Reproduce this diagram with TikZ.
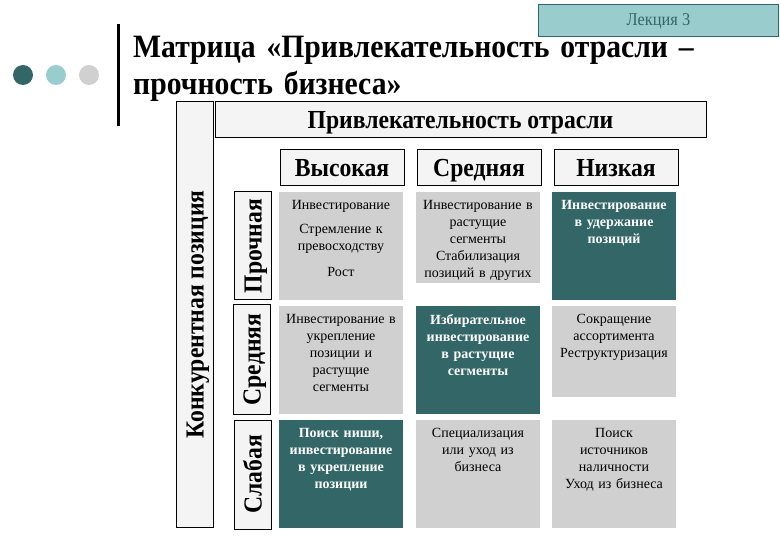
\documentclass[tikz,border=0pt]{standalone}
\usepackage{fontspec}
\setmainfont{Liberation Serif}
\newfontfamily\narrowfont[FakeStretch=0.91]{Liberation Serif}
\usepackage{tikz}
\usetikzlibrary{positioning}
\definecolor{darkteal}{HTML}{336666}
\definecolor{lightteal}{HTML}{99CCCC}
\definecolor{cellgrey}{HTML}{D0D0D0}
\definecolor{boxgrey}{HTML}{F4F4F4}
\tikzstyle{dot} = [circle, inner sep=0pt, minimum size=20pt]
\tikzstyle{headbox} = [rectangle, draw=black, fill=boxgrey, line width=1pt, inner sep=0pt, outer sep=0pt, text height=18pt, text depth=0pt, font=\fontsize{26}{26}\selectfont\narrowfont\bfseries]
\tikzstyle{colbox} = [headbox, minimum width=124pt, minimum height=36pt]
\tikzstyle{rowbox} = [headbox, rotate=90, minimum height=37pt]
\tikzstyle{greycell} = [rectangle, fill=cellgrey, inner sep=0pt, outer sep=0pt, minimum width=124pt]
\tikzstyle{darkcell} = [greycell, fill=darkteal]
\tikzstyle{celltext} = [anchor=north, inner sep=0pt, yshift=-8pt, text width=122pt, align=center, font=\fontsize{14}{17}\selectfont]
\tikzstyle{darktext} = [celltext, text=white, font=\fontsize{14}{17}\selectfont\bfseries]

\begin{document}
\begin{tikzpicture}[x=1pt,y=-1pt]
    \useasboundingbox (0,0) rectangle (780,540);

    % header of the slide
    \node[rectangle, draw=darkteal, fill=lightteal, line width=1pt, inner sep=0pt, minimum width=240pt, minimum height=32pt] (lecturebox) at (658.5,21) {};
    \node[text=darkteal, font=\fontsize{18}{18}\selectfont\narrowfont] (lecture) at (lecturebox) {Лекция 3};
    \node[dot, fill=darkteal] (dotone) at (23,75) {};
    \node[dot, fill=lightteal] (dottwo) at (56,75) {};
    \node[dot, fill=cellgrey] (dotthree) at (89,75) {};
    \draw[line width=3pt] (118,24) -- (118,126);
    \node[anchor=north west, inner sep=0pt, text width=600pt, font=\fontsize{32.6}{37}\selectfont\narrowfont\bfseries] (title) at (133,36) {Матрица «Привлекательность отрасли –\\прочность бизнеса»};

    % axes
    \node[headbox, minimum width=491pt, minimum height=36pt] (attract) at (460.5,120) {Привлекательность отрасли};
    \node[headbox, rotate=90, minimum width=425pt, minimum height=37pt] (position) at (194.5,314.5) {Конкурентная позиция};

    % columns
    \node[colbox] (colhigh) at (342,168) {Высокая};
    \node[colbox, right=13pt of colhigh] (colmid) {Средняя};
    \node[colbox, right=13pt of colmid] (collow) {Низкая};

    % rows
    \node[rowbox, minimum width=108pt] (rowstrong) at (252.5,246) {Прочная};
    \node[rowbox, minimum width=109pt] (rowmid) at (251.5,359.5) {Средняя};
    \node[rowbox, minimum width=109pt] (rowweak) at (252.5,474.5) {Слабая};

    % first row
    \node[greycell, minimum height=108pt] (hh) at (341,246) {};
    \node[greycell, minimum height=91pt] (hm) at (478,237.5) {};
    \node[darkcell, minimum height=108pt] (hl) at (614,246) {};
    \node[celltext] (hhtext) at (hh.north) {Инвестирование\\[7pt]Стремление к\\превосходству\\[9pt]Рост};
    \node[celltext] (hmtext) at (hm.north) {Инвестирование в\\растущие\\сегменты\\Стабилизация\\позиций в других};
    \node[darktext] (hltext) at (hl.north) {Инвестирование\\в удержание\\позиций};

    % second row
    \node[greycell, minimum height=108pt] (mh) at (341,360) {};
    \node[darkcell, minimum height=108pt] (mm) at (478,360) {};
    \node[greycell, minimum height=91pt] (ml) at (614,351.5) {};
    \node[celltext] (mhtext) at (mh.north) {Инвестирование в\\укрепление\\позиции и\\растущие\\сегменты};
    \node[darktext] (mmtext) at (mm.north) {Избирательное\\инвестирование\\в растущие\\сегменты};
    \node[celltext] (mltext) at (ml.north) {Сокращение\\ассортимента\\Реструктуризация};

    % third row
    \node[darkcell, minimum height=108pt] (lh) at (341,474) {};
    \node[greycell, minimum height=108pt] (lm) at (478,474) {};
    \node[greycell, minimum height=108pt] (ll) at (614,474) {};
    \node[darktext] (lhtext) at (lh.north) {Поиск ниши,\\инвестирование\\в укрепление\\позиции};
    \node[celltext] (lmtext) at (lm.north) {Специализация\\или уход из\\бизнеса};
    \node[celltext] (lltext) at (ll.north) {Поиск\\источников\\наличности\\Уход из бизнеса};
\end{tikzpicture}
\end{document}
